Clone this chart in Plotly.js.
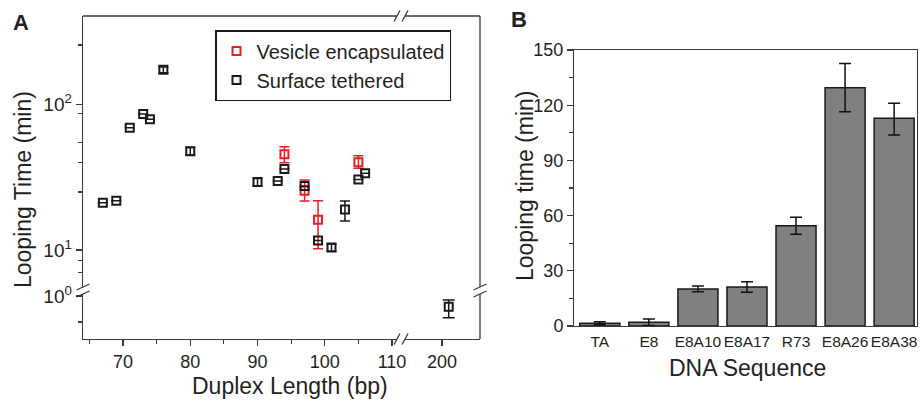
<!DOCTYPE html>
<html>
<head>
<meta charset="utf-8">
<script src="https://cdn.plot.ly/plotly-3.0.1.min.js"></script>
<style>html,body{margin:0;padding:0;background:#fff;}#chart{width:924px;height:407px;}</style>
</head>
<body>
<div id="chart"></div>
<script>
// ---------- Panel A data ----------
const surfX = [67, 69, 71, 73, 74, 76, 80, 90, 93, 94, 97, 99, 101, 103, 105, 106];
const surfY = [21.1, 21.8, 69, 85.7, 78.9, 172.6, 47.7, 29.3, 29.8, 36, 27.5, 11.6, 10.4, 19.0, 30.5, 33.6];
const surfErrPlus  = [null, null, null, null, null, 8, 2.8, 1.7, null, null, null, null, 0.6, 2.7, null, null];
const surfErrMinus = [null, null, null, null, null, 8, 2.8, 1.7, null, null, null, null, 0.6, 3.2, null, null];
const longX = [201];
const longY = [0.845];
const longErrPlus = [0.094];
const longErrMinus = [0.135];
const vesX = [94, 97, 99, 105];
const vesY = [45.4, 25.5, 16.1, 40.0];
const vesErrPlus  = [5.8, 4.7, 5.7, 4.4];
const vesErrMinus = [5.7, 3.8, 5.9, 3.6];
const xTicksA = [70, 80, 90, 100, 110];
const xMinorA = [65, 75, 85, 95, 105];
const xTicksA2 = [200];
const yTicksUpper = [10, 100];
const yTickTextUpper = ['10<sup>1</sup>', '10<sup>2</sup>'];
const yMinorUpper = [255, 87, 55, 40, 25, 8.5, 7];
const yTicksLower = [1];
const yTickTextLower = ['10<sup>0</sup>'];
const yMinorLower = [0.663];

// ---------- Panel B data ----------
const seqNames = ['TA', 'E8', 'E8A10', 'E8A17', 'R73', 'E8A26', 'E8A38'];
const loopTimes = [1.45, 2.0, 20.1, 21.2, 54.5, 129.5, 112.9];
const loopErrPlus = [0.8, 1.8, 1.6, 2.9, 4.6, 13.1, 8.1];
const loopErrMinus = [0.8, 1.7, 1.5, 2.9, 4.7, 13.0, 9.1];

const W = 924, H = 407;
const px = x => x / W;
const py = y => 1 - y / H;
const FONT = 'Liberation Sans, Arial, Helvetica, sans-serif';
const INK = '#231f20';
const AX = '#3a3a3a';
const RED = '#ee1c25';

const traces = [
  {
    type: 'scatter', mode: 'markers', name: 'Vesicle encapsulated',
    x: vesX, y: vesY, xaxis: 'x', yaxis: 'y',
    marker: {symbol: 'square-open', size: 8, color: RED, line: {width: 2, color: RED}},
    error_y: {type: 'data', symmetric: false, array: vesErrPlus, arrayminus: vesErrMinus,
              color: RED, thickness: 1.5, width: 5}
  },
  {
    type: 'scatter', mode: 'markers', name: 'Surface tethered',
    x: surfX, y: surfY, xaxis: 'x', yaxis: 'y',
    marker: {symbol: 'square-open', size: 8, color: '#1a1a1a', line: {width: 2, color: '#1a1a1a'}},
    error_y: {type: 'data', symmetric: false, array: surfErrPlus, arrayminus: surfErrMinus,
              color: '#1a1a1a', thickness: 1.5, width: 5}
  },
  {
    type: 'scatter', mode: 'markers', name: 'Surface tethered', showlegend: false,
    x: longX, y: longY, xaxis: 'x2', yaxis: 'y3',
    marker: {symbol: 'square-open', size: 8, color: '#1a1a1a', line: {width: 2, color: '#1a1a1a'}},
    error_y: {type: 'data', symmetric: false, array: longErrPlus, arrayminus: longErrMinus,
              color: '#1a1a1a', thickness: 1.5, width: 6}
  },
  {
    type: 'bar', x: seqNames, y: loopTimes, xaxis: 'x4', yaxis: 'y4', showlegend: false,
    marker: {color: '#808080', line: {color: '#1a1a1a', width: 1.5}},
    error_y: {type: 'data', symmetric: false, array: loopErrPlus, arrayminus: loopErrMinus,
              color: '#111', thickness: 1.5, width: 6}
  }
];

const tickFont = {family: FONT, size: 18, color: INK};
const axBase = {showline: true, linecolor: AX, linewidth: 1.3, ticks: 'outside', tickcolor: AX,
                tickwidth: 1.2, ticklen: 6, showgrid: false, zeroline: false, tickfont: tickFont,
                fixedrange: true};

const lx = [83, 397, 405, 480]; // panel A x pixel bounds
const ly = [16, 287, 294, 339]; // panel A y pixel bounds

function seg(x0, y0, x1, y1, w) {
  return {type: 'line', xref: 'paper', yref: 'paper', x0: px(x0), y0: py(y0), x1: px(x1), y1: py(y1),
          line: {color: AX, width: w || 1.3}};
}
const shapes = [
  seg(lx[0], ly[0], lx[1], ly[0]), seg(lx[2], ly[0], lx[3], ly[0]),
  seg(lx[3], ly[0], lx[3], ly[1]), seg(lx[3], ly[2], lx[3], ly[3]),
  seg(lx[1] - 3, ly[0] + 5.5, lx[1] + 3, ly[0] - 5.5), seg(lx[2] - 3, ly[0] + 5.5, lx[2] + 3, ly[0] - 5.5),
  seg(lx[1] - 3, ly[3] + 5.5, lx[1] + 3, ly[3] - 5.5), seg(lx[2] - 3, ly[3] + 5.5, lx[2] + 3, ly[3] - 5.5),
  seg(lx[0] - 6.5, ly[1] + 3, lx[0] + 6.5, ly[1] - 3), seg(lx[0] - 6.5, ly[2] + 3, lx[0] + 6.5, ly[2] - 3),
  seg(lx[3] - 6.5, ly[1] + 3, lx[3] + 6.5, ly[1] - 3), seg(lx[3] - 6.5, ly[2] + 3, lx[3] + 6.5, ly[2] - 3)
];

function ann(text, x, y, size, extra) {
  return Object.assign({text: text, x: px(x), y: py(y), xref: 'paper', yref: 'paper',
    xanchor: 'center', yanchor: 'middle', showarrow: false,
    font: {family: FONT, size: size, color: INK}}, extra || {});
}

const layout = {
  width: W, height: H,
  margin: {l: 0, r: 0, t: 0, b: 0},
  paper_bgcolor: '#fff', plot_bgcolor: 'rgba(0,0,0,0)',
  font: {family: FONT, color: INK},
  bargap: 0.184,
  showlegend: true,
  legend: {x: px(215), y: py(30), xanchor: 'left', yanchor: 'top', bgcolor: '#fff',
           bordercolor: '#1a1a1a', borderwidth: 1.5, font: {family: FONT, size: 20, color: INK},
           tracegroupgap: 0, itemclick: false},
  xaxis: Object.assign({}, axBase, {domain: [px(lx[0]), px(lx[1])], range: [64.05, 110.74], anchor: 'y3',
           tickmode: 'array', tickvals: xTicksA,
           minor: {tickmode: 'array', tickvals: xMinorA, ticklen: 3.5, tickcolor: AX, tickwidth: 1.2}}),
  xaxis2: Object.assign({}, axBase, {domain: [px(lx[2]), px(lx[3])], range: [194.5, 205.65], anchor: 'y3',
           tickmode: 'array', tickvals: xTicksA2}),
  yaxis: Object.assign({}, axBase, {domain: [py(ly[1]), py(ly[0])], type: 'log', range: [0.746, 2.606], anchor: 'x',
           tickmode: 'array', tickvals: yTicksUpper, ticktext: yTickTextUpper,
           tickfont: {family: FONT, size: 19, color: INK},
           minor: {tickmode: 'array', tickvals: yMinorUpper, ticklen: 3.5, tickcolor: AX, tickwidth: 1.2}}),
  yaxis3: Object.assign({}, axBase, {domain: [py(ly[3]), py(ly[2])], type: 'log', range: [-0.295, 0.0137], anchor: 'x',
           tickmode: 'array', tickvals: yTicksLower, ticktext: yTickTextLower,
           tickfont: {family: FONT, size: 19, color: INK},
           minor: {tickmode: 'array', tickvals: yMinorLower, ticklen: 3.5, tickcolor: AX, tickwidth: 1.2}}),
  xaxis4: Object.assign({}, axBase, {domain: [px(574.3), px(916.7)], range: [-0.52, 6.46], anchor: 'y4',
           type: 'category', ticks: '', mirror: true, tickangle: 0, ticklabelstandoff: 1,
           tickfont: {family: FONT, size: 15.5, color: INK}}),
  yaxis4: Object.assign({}, axBase, {domain: [py(326), py(50)], range: [0, 150], anchor: 'x4', mirror: true,
           tickmode: 'linear', tick0: 0, dtick: 30,
           minor: {tick0: 0, dtick: 15, ticklen: 4, tickcolor: AX, tickwidth: 1.2}}),
  shapes: shapes,
  annotations: [
    ann('<b>A</b>', 21, 22.5, 22),
    ann('<b>B</b>', 519, 19, 22),
    ann('Looping Time (min)', 23, 190, 23, {textangle: -90}),
    ann('Duplex Length (bp)', 290, 386, 23),
    ann('Looping time (min)', 525, 186, 23, {textangle: -90}),
    ann('DNA Sequence', 747, 368, 23)
  ]
};

Plotly.newPlot('chart', traces, layout, {staticPlot: true, displayModeBar: false});
</script>
</body>
</html>
